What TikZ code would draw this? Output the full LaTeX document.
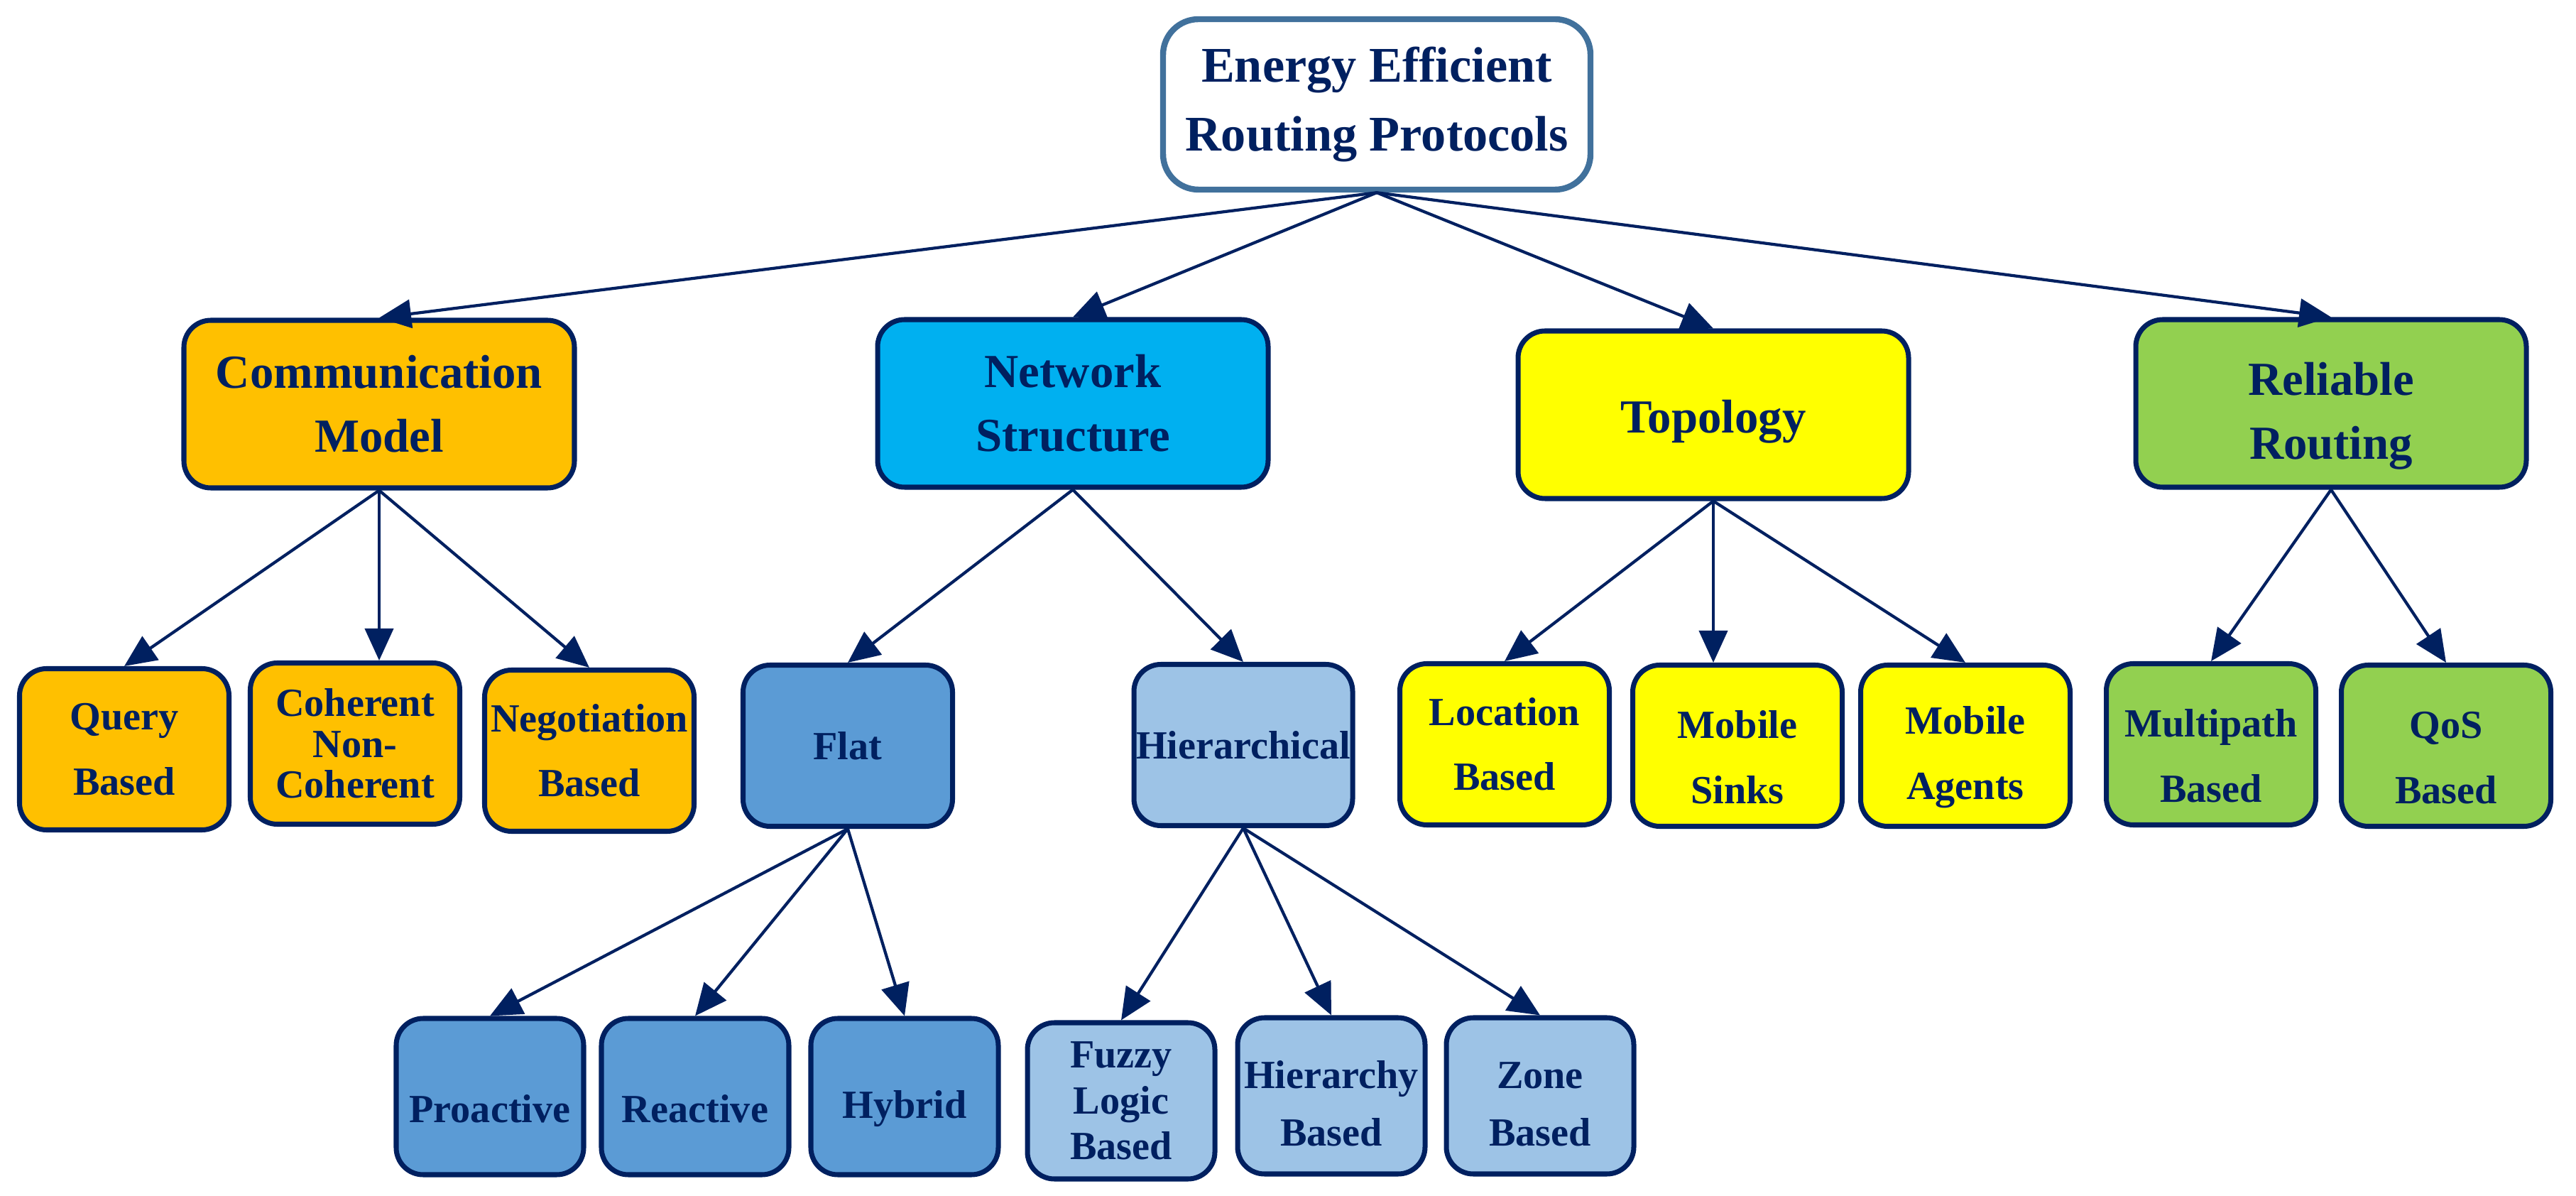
\documentclass[tikz,border=0pt]{standalone}
\usepackage{fontspec}
\setmainfont{Liberation Serif}
\usetikzlibrary{arrows.meta}
\definecolor{navy}{HTML}{002060}
\definecolor{rootline}{HTML}{41719C}
\definecolor{commfill}{HTML}{FFC000}
\definecolor{netfill}{HTML}{00B0F0}
\definecolor{topofill}{HTML}{FFFF00}
\definecolor{relfill}{HTML}{92D050}
\definecolor{flatfill}{HTML}{5B9BD5}
\definecolor{hierfill}{HTML}{9DC3E6}
% invisible strut that pushes a label down a little
\newcommand{\topgap}[1]{\rule{0pt}{#1}}
\tikzset{
	box/.style={draw=navy, line width=2pt, rounded corners=0.38cm, text=navy, align=center, inner sep=0pt,
		font=\bfseries\fontsize{16}{26}\selectfont, minimum width=2.95cm, minimum height=2.27cm},
	mainbox/.style={box, minimum width=5.5cm, minimum height=2.36cm, font=\bfseries\fontsize{19}{25.6}\selectfont},
	lowbox/.style={box, minimum width=2.64cm, minimum height=2.2cm},
	tight/.style={font=\bfseries\fontsize{16}{#1}\selectfont},
	link/.style={draw=navy, line width=1.2pt, -{Triangle[length=0.45cm, width=0.4cm]}}
}

\begin{document}
\begin{tikzpicture}
		%%%%% START %%%%%
		\useasboundingbox (0,0) rectangle (36.28,-16.84);
		
		\node[box, draw=rootline, line width=2.4pt, rounded corners=0.5cm, fill=white, minimum width=6.02cm, minimum height=2.4cm,
			font=\bfseries\fontsize{20}{27.6}\selectfont] (root) at (19.39,-1.47) {Energy Efficient\\Routing Protocols};
		
		\node[mainbox, fill=commfill] (comm) at (5.34,-5.69) {Communication\\Model};
		\node[mainbox, fill=netfill] (net) at (15.11,-5.68) {Network\\Structure};
		\node[mainbox, fill=topofill] (topo) at (24.13,-5.84) {\topgap{18.5pt}Topology};
		\node[mainbox, fill=relfill] (rel) at (32.83,-5.68) {\topgap{23pt}Reliable\\Routing};
		
		\node[box, fill=commfill] (query) at (1.75,-10.55) {Query\\Based};
		\node[box, fill=commfill, tight=16.4] (coh) at (5.00,-10.47) {Coherent\\Non-\\Coherent};
		\node[box, fill=commfill] (neg) at (8.30,-10.57) {Negotiation\\Based};
		
		\node[box, fill=flatfill] (flat) at (11.94,-10.50) {Flat};
		\node[box, fill=hierfill, minimum width=3.08cm] (hier) at (17.51,-10.49) {Hierarchical};
		
		\node[box, fill=topofill] (loc) at (21.19,-10.48) {Location\\Based};
		\node[box, fill=topofill] (sinks) at (24.47,-10.50) {\topgap{20.4pt}Mobile\\Sinks};
		\node[box, fill=topofill] (agents) at (27.68,-10.50) {\topgap{20.4pt}Mobile\\Agents};
		
		\node[box, fill=relfill] (multi) at (31.14,-10.48) {\topgap{20.4pt}Multipath\\Based};
		\node[box, fill=relfill] (qos) at (34.45,-10.50) {\topgap{20.4pt}QoS\\Based};
		
		\node[lowbox, fill=flatfill] (pro) at (6.90,-15.44) {\topgap{21pt}Proactive};
		\node[lowbox, fill=flatfill] (rea) at (9.79,-15.44) {\topgap{21pt}Reactive};
		\node[lowbox, fill=flatfill] (hyb) at (12.74,-15.44) {\topgap{21pt}Hybrid};
		
		\node[lowbox, fill=hierfill, tight=18.4] (fuzzy) at (15.79,-15.50) {Fuzzy\\Logic\\Based};
		\node[lowbox, fill=hierfill, tight=23] (hby) at (18.75,-15.43) {\topgap{17pt}Hierarchy\\Based};
		\node[lowbox, fill=hierfill, tight=23] (zone) at (21.69,-15.43) {\topgap{17pt}Zone\\Based};
		
		% root to main groups
		\draw[link] (root.south) -- (comm.north);
		\draw[link] (root.south) -- (net.north);
		\draw[link] (root.south) -- (topo.north);
		\draw[link] (root.south) -- (rel.north);
		
		% second level
		\draw[link] (comm.south) -- (query.north);
		\draw[link] (comm.south) -- (comm.south |- coh.north);
		\draw[link] (comm.south) -- (neg.north);
		\draw[link] (net.south) -- (flat.north);
		\draw[link] (net.south) -- (hier.north);
		\draw[link] (topo.south) -- (loc.north);
		\draw[link] (topo.south) -- (topo.south |- sinks.north);
		\draw[link] (topo.south) -- (agents.north);
		\draw[link] (rel.south) -- (multi.north);
		\draw[link] (rel.south) -- (qos.north);
		
		% third level
		\draw[link] (flat.south) -- (pro.north);
		\draw[link] (flat.south) -- (rea.north);
		\draw[link] (flat.south) -- (hyb.north);
		\draw[link] (hier.south) -- (fuzzy.north);
		\draw[link] (hier.south) -- (hby.north);
		\draw[link] (hier.south) -- (zone.north);
		
		%%%%% END %%%%%
\end{tikzpicture}
\end{document}
